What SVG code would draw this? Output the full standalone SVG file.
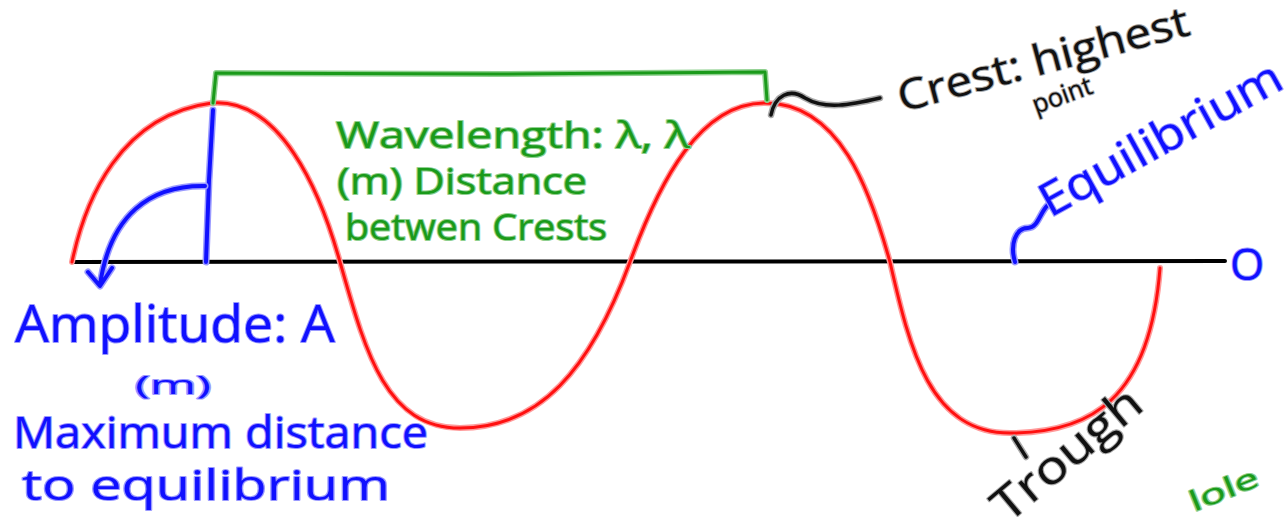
<svg xmlns="http://www.w3.org/2000/svg" width="1287" height="520" viewBox="0 0 1287 520">
<style>
.ink{fill:none;stroke-linecap:round;stroke-linejoin:round}
.red{stroke:#ff1010;stroke-width:3}
.redh{stroke:#ff9a9a;stroke-width:6}
.grn{stroke:#1a9a1a;stroke-width:3}
.grnh{stroke:#8fd08f;stroke-width:6}
.blu{stroke:#1010ff;stroke-width:4}
.bluh{stroke:#9a9aff;stroke-width:7}
.blk{stroke:#111;stroke-width:3.5}
.blkh{stroke:#aaa;stroke-width:6.5}
text{font-family:"Open Sans","Liberation Sans",sans-serif;paint-order:stroke;stroke-linejoin:round}
.tb{fill:#1010ff;stroke:#9a9aff;stroke-width:2}
.tg{fill:#1a9a1a;stroke:#8fd08f;stroke-width:2}
.tk{fill:#111;stroke:#aaa;stroke-width:2}
</style>
<rect width="1287" height="520" fill="#fff"/>
<g id="connectors">
<!-- axis -->
<path class="ink" d="M72 262 L1225 261" stroke="#000" stroke-width="4"/>
<!-- sine wave -->
<g id="wave">
<path class="ink redh" d="M72 262 C85 200 120 115 212 103 C280 98 320 190 340 262 C365 350 385 428 460 428 C540 428 590 370 630 262 C660 180 700 103 765 103 C840 103 870 190 890 262 C910 350 930 433 1010 433 C1090 433 1150 400 1160 268"/>
<path class="ink red" d="M72 262 C85 200 120 115 212 103 C280 98 320 190 340 262 C365 350 385 428 460 428 C540 428 590 370 630 262 C660 180 700 103 765 103 C840 103 870 190 890 262 C910 350 930 433 1010 433 C1090 433 1150 400 1160 268"/>
</g>
<!-- wavelength bracket -->
<path class="ink grnh" d="M213 103 L216 73 L500 74 L765 72 L767 100"/>
<path class="ink grn" d="M213 103 L216 73 L500 74 L765 72 L767 100"/>
<!-- amplitude line and arrow -->
<path class="ink bluh" d="M213 110 L209 180 L206 262"/>
<path class="ink blu" d="M213 110 L209 180 L206 262"/>
<path class="ink bluh" d="M205 186 C150 185 110 215 100 285 M88 272 L100 286 L112 268"/>
<path class="ink blu" d="M205 186 C150 185 110 215 100 285 M88 272 L100 286 L112 268"/>
<!-- crest pointer -->
<path class="ink blkh" d="M771 115 C775 95 790 88 805 98 C825 110 850 105 880 98"/>
<path class="ink blk" d="M771 115 C775 95 790 88 805 98 C825 110 850 105 880 98"/>
<!-- equilibrium pointer -->
<path class="ink bluh" d="M1015 262 C1010 245 1015 228 1028 228 C1038 228 1040 212 1048 205"/>
<path class="ink blu" d="M1015 262 C1010 245 1015 228 1028 228 C1038 228 1040 212 1048 205"/>
<!-- trough pointer -->
<path class="ink blkh" d="M1014 438 L1026 457"/>
<path class="ink blk" d="M1014 438 L1026 457"/>
</g>
<g id="amplitude-label">
<text class="tb" x="15" y="342" font-size="52" textLength="320" lengthAdjust="spacingAndGlyphs">Amplitude: A</text>
<text class="tb" x="135" y="394" font-size="26" textLength="76" lengthAdjust="spacingAndGlyphs">(m)</text>
<text class="tb" x="13" y="448" font-size="44" textLength="415" lengthAdjust="spacingAndGlyphs">Maximum distance</text>
<text class="tb" x="22" y="500" font-size="42" textLength="368" lengthAdjust="spacingAndGlyphs">to equilibrium</text>
</g>
<g id="wavelength-label">
<text class="tg" x="336" y="148" font-size="36" textLength="354" lengthAdjust="spacingAndGlyphs">Wavelength: λ, λ</text>
<text class="tg" x="337" y="194" font-size="36" textLength="250" lengthAdjust="spacingAndGlyphs">(m) Distance</text>
<text class="tg" x="345" y="240" font-size="36" textLength="262" lengthAdjust="spacingAndGlyphs">betwen Crests</text>
</g>
<g id="crest-label">
<text class="tk" font-size="42" transform="translate(902 112) rotate(-15)" textLength="300" lengthAdjust="spacingAndGlyphs">Crest: highest</text>
<text class="tk" font-size="26" transform="translate(1036 114) rotate(-20)" textLength="62" lengthAdjust="spacingAndGlyphs">point</text>
</g>
<g id="equilibrium-label">
<text class="tb" font-size="46" transform="translate(1050 218) rotate(-29)" textLength="270" lengthAdjust="spacingAndGlyphs">Equilibrium</text>
</g>
<g id="zero-label">
<text class="tb" x="1230" y="280" font-size="44">O</text>
</g>
<g id="trough-label">
<text class="tk" font-size="46" transform="translate(1008 524) rotate(-40)" textLength="180" lengthAdjust="spacingAndGlyphs">Trough</text>
</g>
<g id="whole-label">
<text class="tg" font-size="28" transform="translate(1194 512) rotate(-22)" textLength="72" lengthAdjust="spacingAndGlyphs">lole</text>
</g>
</svg>
